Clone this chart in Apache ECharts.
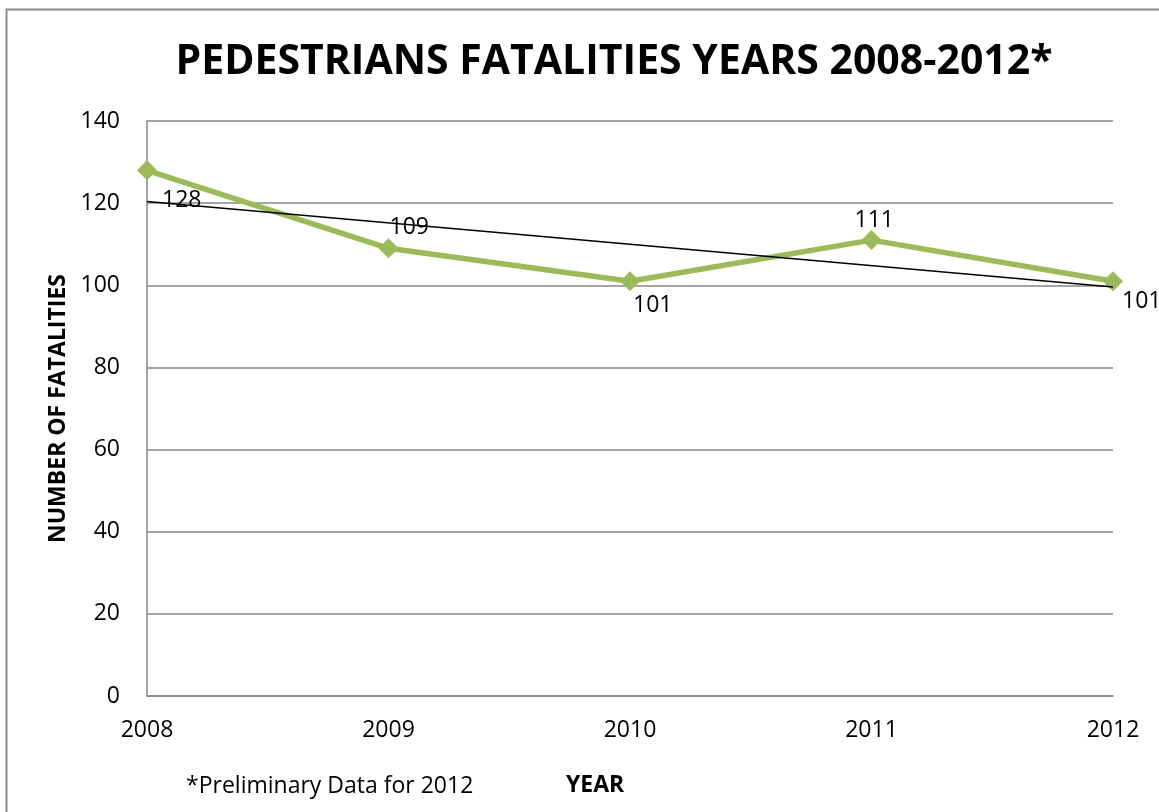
<!DOCTYPE html>
<html><head><meta charset="utf-8">
<script src="https://cdn.jsdelivr.net/npm/echarts@6/dist/echarts.min.js"></script>
<style>html,body{margin:0;padding:0;background:#fff}#c{width:1159px;height:812px}</style>
</head><body><div id="c"></div>
<script>
const years = ['2008','2009','2010','2011','2012'];
const fatalities = [128,109,101,111,101];
const trendEnds = [120.4, 99.6];
const labelOffsets = [[15,30],[1,-21],[3,24],[-17,-20],[9,20]];

const chart = echarts.init(document.getElementById('c'));
const FONT = '"Open Sans", sans-serif';
chart.setOption({
  animation:false,
  backgroundColor:'#fff',
  graphic:[
    {type:'rect', shape:{x:6.5,y:9.5,width:1200,height:900}, style:{fill:'none',stroke:'#8c8c8c',lineWidth:2}},
    {type:'text', left:186, top:775, style:{text:'*Preliminary Data for 2012', font:'23px '+FONT, fill:'#000'}},
    {type:'text', left:566, top:774, style:{text:'YEAR', font:'bold 23px '+FONT, fill:'#000'}}
  ],
  title:{text:'PEDESTRIANS FATALITIES YEARS 2008-2012*', left:609, textAlign:'center', top:37,
    textStyle:{fontFamily:FONT, fontWeight:'bold', fontSize:41, color:'#000'}},
  grid:{left:147, right:46, top:121, bottom:116},
  xAxis:{type:'category', data:years, boundaryGap:false,
    axisLine:{lineStyle:{color:'#868686',width:1.5}}, axisTick:{show:false},
    axisLabel:{color:'#000', fontSize:23, fontFamily:FONT, margin:23},
    splitLine:{show:false}},
  yAxis:{type:'value', min:0, max:140, interval:20,
    name:'NUMBER OF FATALITIES', nameLocation:'middle', nameGap:76, nameRotate:90,
    nameTextStyle:{fontFamily:FONT, fontWeight:'bold', fontSize:23, color:'#000'},
    axisLine:{show:true, lineStyle:{color:'#868686',width:1.5}}, axisTick:{show:false},
    axisLabel:{color:'#000', fontSize:23, fontFamily:FONT, margin:27},
    splitLine:{lineStyle:{color:'#868686',width:1.5}}},
  series:[
    {type:'line', data:[[0,trendEnds[0]],[4,trendEnds[1]]], symbol:'none', z:3,
      lineStyle:{color:'#000',width:1.5}, silent:true},
    {type:'line', data:fatalities.map((v,i)=>({value:v,
        label:{offset:labelOffsets[i]}})), z:2,
      symbol:'diamond', symbolSize:20, showSymbol:true,
      itemStyle:{color:'#9BBB59'}, lineStyle:{color:'#9BBB59',width:5.5},
      label:{show:true, position:'inside', align:'left', verticalAlign:'middle',
        color:'#000', fontSize:23, fontFamily:FONT}}
  ]
});
</script></body></html>
